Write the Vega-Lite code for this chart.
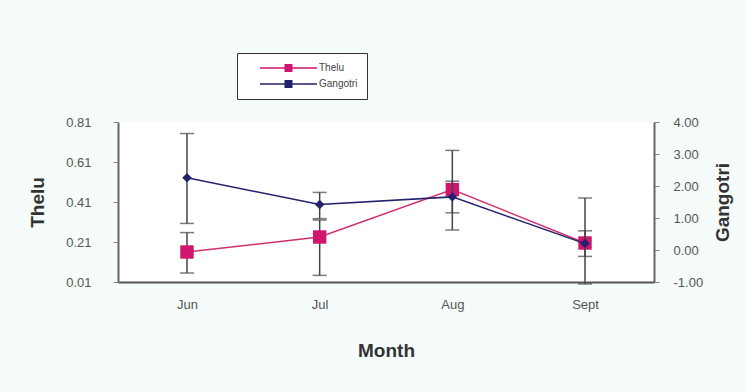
{
  "$schema": "https://vega.github.io/schema/vega-lite/v6.json",
  "width": 536,
  "height": 160,
  "autosize": {"type": "none"},
  "padding": {"left": 118, "top": 122, "right": 93, "bottom": 110},
  "background": "#f5fcfa",
  "config": {
    "view": {"stroke": null, "fill": "white"},
    "font": "Liberation Sans",
    "axis": {"labelColor": "#555555", "labelFontSize": 13, "labelFont": "Liberation Sans", "titleFont": "Liberation Sans", "titleFontSize": 19, "titleFontWeight": "bold", "titleColor": "#333333", "domainColor": "#666666", "tickColor": "#888888", "grid": false, "labelOverlap": false, "labelFlush": false}
  },
  "data": {
    "values": [
      {"month": "Jun", "series": "Thelu", "v": 0.16, "lo": 0.055, "hi": 0.257},
      {"month": "Jul", "series": "Thelu", "v": 0.235, "lo": 0.043, "hi": 0.32},
      {"month": "Aug", "series": "Thelu", "v": 0.472, "lo": 0.27, "hi": 0.668},
      {"month": "Sept", "series": "Thelu", "v": 0.205, "lo": 0.0, "hi": 0.43},
      {"month": "Jun", "series": "Gangotri", "v": 2.26, "lo": 0.83, "hi": 3.64},
      {"month": "Jul", "series": "Gangotri", "v": 1.42, "lo": 0.98, "hi": 1.8},
      {"month": "Aug", "series": "Gangotri", "v": 1.66, "lo": 1.16, "hi": 2.15},
      {"month": "Sept", "series": "Gangotri", "v": 0.2, "lo": -0.2, "hi": 0.6}
    ]
  },
  "encoding": {
    "x": {"field": "month", "type": "nominal", "sort": ["Jun", "Jul", "Aug", "Sept"],
      "scale": {"type": "point", "padding": 0.52},
      "axis": {"title": "Month", "labelAngle": 0, "labelPadding": 16, "titlePadding": 30, "ticks": false, "domainWidth": 2, "domainColor": "#555555"}}
  },
  "layer": [
    {
      "transform": [{"filter": "datum.series == 'Thelu'"}],
      "layer": [
        {"mark": {"type": "line", "color": "#d0306e", "strokeWidth": 1.5},
          "encoding": {"y": {"field": "v", "type": "quantitative",
            "scale": {"domain": [0.01, 0.81], "nice": false, "zero": false},
            "axis": {"title": "Thelu", "orient": "left", "values": [0.01, 0.21, 0.41, 0.61, 0.81], "tickCount": 20, "format": ".2f", "labelPadding": 22, "titlePadding": 18, "domainWidth": 2, "labelOverlap": false}}}},
        {"mark": {"type": "rule", "color": "#444444", "strokeWidth": 1.5},
          "encoding": {"y": {"field": "lo", "type": "quantitative"}, "y2": {"field": "hi"}}},
        {"mark": {"type": "tick", "color": "#444444", "size": 14, "thickness": 1.5},
          "encoding": {"y": {"field": "lo", "type": "quantitative"}}},
        {"mark": {"type": "tick", "color": "#444444", "size": 14, "thickness": 1.5},
          "encoding": {"y": {"field": "hi", "type": "quantitative"}}},
        {"mark": {"type": "point", "filled": true, "size": 180, "opacity": 1, "shape": "square"},
          "encoding": {"y": {"field": "v", "type": "quantitative"},
            "color": {"field": "series", "type": "nominal", "scale": {"domain": ["Thelu", "Gangotri"], "range": ["#d0156e", "#23206e"]},
              "legend": {"title": null, "orient": "none", "legendX": 119, "legendY": -69, "direction": "vertical", "fillColor": "white", "strokeColor": "#333333", "padding": 9, "labelFontSize": 10, "labelColor": "#444444", "symbolSize": 3249, "symbolStrokeWidth": 0, "symbolOffset": 14, "clipHeight": 12, "rowPadding": 4, "labelOffset": 2,
                "labelExpr": "datum.label + '\u2003\u2003\u2003\u2003\u2003'",
                "symbolType": "M-1,-0.026L-0.14,-0.026L-0.14,-0.14L0.14,-0.14L0.14,-0.026L1,-0.026L1,0.026L0.14,0.026L0.14,0.14L-0.14,0.14L-0.14,0.026L-1,0.026Z"}}}}
      ]
    },
    {
      "transform": [{"filter": "datum.series == 'Gangotri'"}],
      "layer": [
        {"mark": {"type": "line", "color": "#23206e", "strokeWidth": 1.5},
          "encoding": {"y": {"field": "v", "type": "quantitative",
            "scale": {"domain": [-1, 4], "nice": false, "zero": false},
            "axis": {"title": "Gangotri", "orient": "right", "values": [-1, 0, 1, 2, 3, 4], "tickCount": 20, "format": ".2f", "labelExpr": "replace(datum.label, '\u2212', '-')", "labelPadding": 14, "titlePadding": 30, "titleAngle": -90, "domainWidth": 2, "labelOverlap": false}}}},
        {"mark": {"type": "rule", "color": "#444444", "strokeWidth": 1.5},
          "encoding": {"y": {"field": "lo", "type": "quantitative"}, "y2": {"field": "hi"}}},
        {"mark": {"type": "tick", "color": "#444444", "size": 14, "thickness": 1.5},
          "encoding": {"y": {"field": "lo", "type": "quantitative"}}},
        {"mark": {"type": "tick", "color": "#444444", "size": 14, "thickness": 1.5},
          "encoding": {"y": {"field": "hi", "type": "quantitative"}}},
        {"mark": {"type": "point", "filled": true, "size": 90, "opacity": 1, "shape": "diamond"},
          "encoding": {"y": {"field": "v", "type": "quantitative"},
            "color": {"field": "series", "type": "nominal"}}}
      ]
    }
  ],
  "resolve": {"scale": {"y": "independent"}}
}
